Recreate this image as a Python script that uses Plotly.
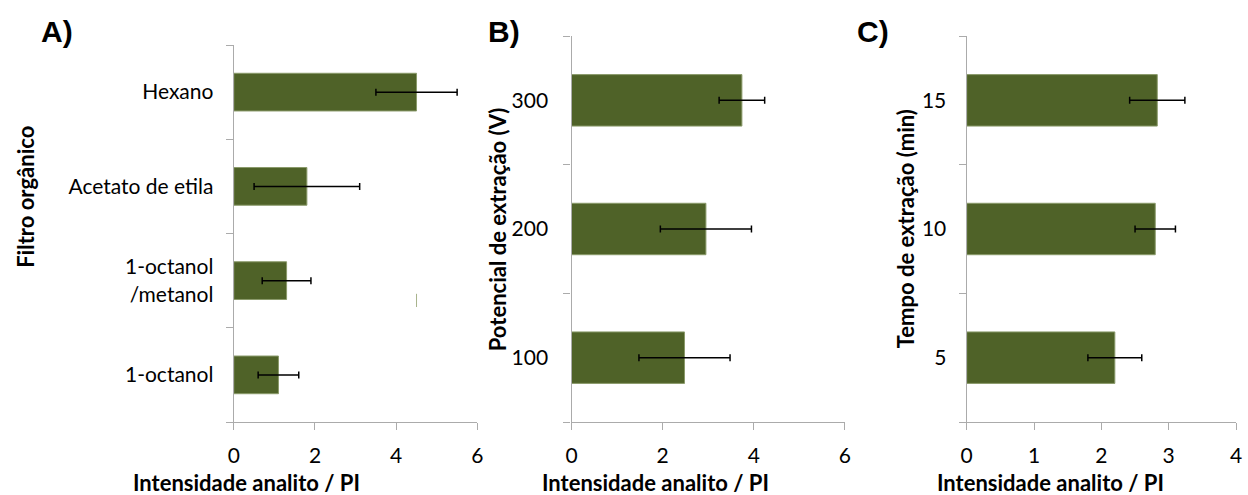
import plotly.graph_objects as go

# Panel A
cats_a = ["1-octanol", "1-octanol<br>/metanol", "Acetato de etila", "Hexano"]
vals_a = [1.1, 1.3, 1.8, 4.5]
err_a = [0.5, 0.6, 1.3, 1.0]
# Panel B
cats_b = ["100", "200", "300"]
vals_b = [2.48, 2.95, 3.74]
err_b = [1.0, 1.0, 0.5]
# Panel C
cats_c = ["5", "10", "15"]
vals_c = [2.2, 2.8, 2.83]
err_c = [0.4, 0.3, 0.41]

BAR = "#4F6228"
EDGE = "#8A9A6A"
W, H = 1248, 495
FONT = "Lato"

def px(x):
    return x / W

def py(y):
    return 1 - y / H

fig = go.Figure()
panels = [
    (cats_a, vals_a, err_a, "x", "y"),
    (cats_b, vals_b, err_b, "x2", "y2"),
    (cats_c, vals_c, err_c, "x3", "y3"),
]
for cats, vals, errs, xa, ya in panels:
    fig.add_trace(go.Bar(
        y=cats, x=vals, orientation="h", xaxis=xa, yaxis=ya,
        marker=dict(color=BAR, line=dict(color=EDGE, width=1)),
        error_x=dict(type="data", array=errs, visible=True, color="black", thickness=1.5, width=3.5),
        showlegend=False,
    ))

axis_common = dict(
    showline=True, linecolor="#ABABAB", linewidth=1.3, showgrid=False, zeroline=False,
    ticks="outside", tickcolor="#ABABAB", ticklen=7, tickwidth=1.3,
    tickfont=dict(family=FONT, size=21, color="black"),
)

fig.update_layout(
    width=W, height=H, margin=dict(l=0, r=0, t=0, b=0),
    paper_bgcolor="white", plot_bgcolor="white", bargap=0.6,
    xaxis=dict(domain=[px(230), px(476)], range=[0, 6], dtick=2, anchor="y",
               ticklabelstandoff=8, **axis_common),
    yaxis=dict(domain=[py(422), py(45)], anchor="x", type="category", tickson="boundaries",
               range=[-0.5, 3.5], ticklabelstandoff=15, **axis_common),
    xaxis2=dict(domain=[px(571), px(847)], range=[0, 6], dtick=2, anchor="y2",
                ticklabelstandoff=8, **axis_common),
    yaxis2=dict(domain=[py(422), py(36)], anchor="x2", type="category", tickson="boundaries",
                range=[-0.5, 2.5], ticklabelstandoff=18, **axis_common),
    xaxis3=dict(domain=[px(970), px(1242)], range=[0, 4], dtick=1, anchor="y3",
                ticklabelstandoff=8, **axis_common),
    yaxis3=dict(domain=[py(422), py(36)], anchor="x3", type="category", tickson="boundaries",
                range=[-0.5, 2.5], ticklabelstandoff=15, **axis_common),
)

# small stray mark seen in panel A
fig.add_shape(type="line", xref="x", yref="y", x0=4.5, x1=4.5, y0=0.72, y1=0.86,
              line=dict(color="#A8B38C", width=1))

title_font = dict(family=FONT, size=22, color="black")
ann = []
for cx in (243, 656, 1055):
    ann.append(dict(text="<b>Intensidade analito / PI</b>", x=px(cx), y=0, xref="paper", yref="paper",
                    showarrow=False, font=title_font, xanchor="center", yanchor="bottom", yshift=-3))
for text, cx, cy in (("Filtro orgânico", 19, 197), ("Potencial de extração (V)", 496, 229),
                     ("Tempo de extração (min)", 908, 229)):
    ann.append(dict(text="<b>%s</b>" % text, x=px(cx), y=py(cy), xref="paper", yref="paper",
                    showarrow=False, font=title_font, textangle=-90, xanchor="center", yanchor="middle"))
for text, cx in (("A)", 51), ("B)", 503), ("C)", 875)):
    ann.append(dict(text="<b>%s</b>" % text, x=px(cx), y=py(32), xref="paper", yref="paper",
                    showarrow=False, font=dict(family="Liberation Sans", size=30, color="black"),
                    xanchor="center", yanchor="middle"))
fig.update_layout(annotations=ann)

fig.write_html("out.html")
